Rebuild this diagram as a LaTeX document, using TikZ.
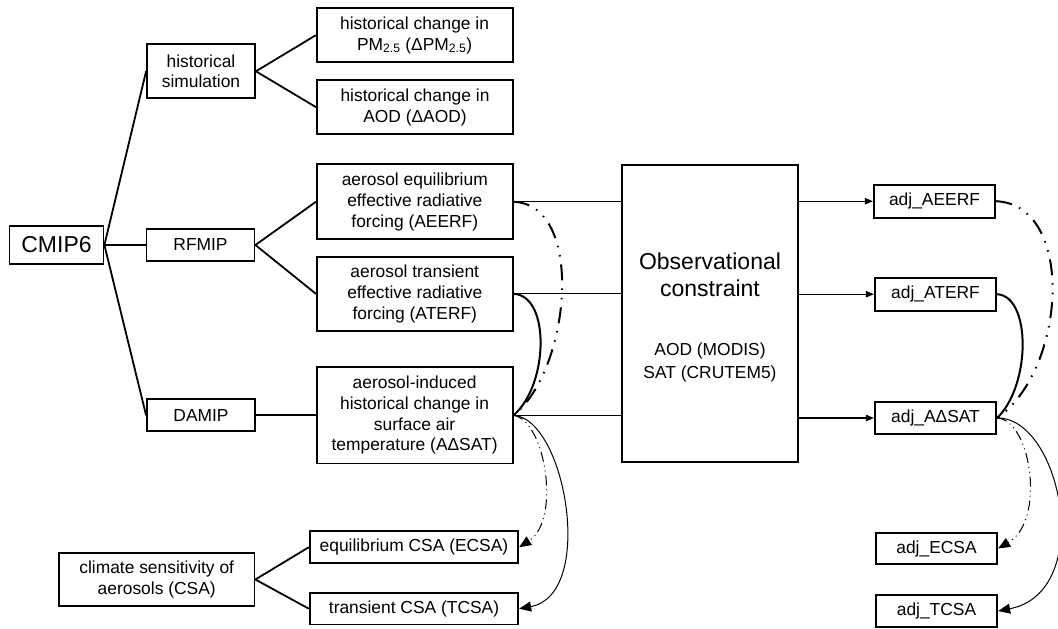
\documentclass[tikz,border=0pt]{standalone}
\usepackage{fontspec}
\setmainfont{Liberation Sans}
\usetikzlibrary{arrows.meta}
\tikzset{
  boxn/.style={draw, line width=1.8pt, inner sep=0pt, align=center, font=\fontsize{17.4}{20.7}\selectfont},
  treeline/.style={line width=1.8pt},
  obsline/.style={line width=1.1pt},
  obsarrow/.style={line width=1.1pt, -{Triangle[length=8pt,width=6.5pt]}},
  bigdd/.style={line width=2pt, dash pattern=on 16pt off 8pt on 1.5pt off 8pt on 1.5pt off 8pt},
  bigsolid/.style={line width=2pt},
  smalldd/.style={line width=1pt, dash pattern=on 10pt off 4pt on 1pt off 4pt on 1pt off 4pt, -{Triangle[length=12pt,width=10pt]}},
  smallsolid/.style={line width=1pt, -{Triangle[length=12pt,width=10pt]}},
  obstext/.style={anchor=base, inner sep=0pt},
}
\begin{document}
\begin{tikzpicture}[x=1pt, y=-1pt]
\useasboundingbox (0,0) rectangle (1058,629);
\fill[white] (0,0) rectangle (1058,629);

% left tree
\node[boxn, minimum width=94, minimum height=38, font=\fontsize{23}{27}\selectfont] (cmip) at (56.5,245) {CMIP6};
\node[boxn, minimum width=108, minimum height=54] (hist) at (201,71.3) {historical\\simulation};
\node[boxn, minimum width=108, minimum height=31.5] (rfmip) at (200.5,245) {RFMIP};
\node[boxn, minimum width=108, minimum height=32] (damip) at (201,415.3) {DAMIP};

\node[boxn, minimum width=196, minimum height=54] (pm) at (414.6,35.3) {historical change in\\PM\textsubscript{2.5} (ΔPM\textsubscript{2.5})};
\node[boxn, minimum width=196, minimum height=54] (aod) at (415,107.2) {historical change in\\AOD (ΔAOD)};
\node[boxn, minimum width=196, minimum height=75] (aeerf) at (414.8,201.8) {aerosol equilibrium\\effective radiative\\forcing (AEERF)};
\node[boxn, minimum width=196, minimum height=74] (aterf) at (414.8,293.8) {aerosol transient\\effective radiative\\forcing (ATERF)};
\node[boxn, minimum width=196, minimum height=96.5] (asat) at (414.6,415.3) {aerosol-induced\\historical change in\\surface air\\temperature (AΔSAT)};

\node[boxn, minimum width=195.5, minimum height=53.5] (csa) at (156.7,579.5) {climate sensitivity of\\aerosols (CSA)};
\node[boxn, minimum width=208.5, minimum height=32] (ecsa) at (414,547.2) {equilibrium CSA (ECSA)};
\node[boxn, minimum width=208.5, minimum height=31.5] (tcsa) at (414,608.7) {transient CSA (TCSA)};

% observational constraint
\node[draw, line width=1.5pt, minimum width=176, minimum height=297, inner sep=0pt] (obs) at (710,313.3) {};
\node[obstext, font=\fontsize{23}{27}\selectfont] (ot1) at (710,269) {Observational};
\node[obstext, font=\fontsize{23}{27}\selectfont] (ot2) at (710,296.7) {constraint};
\node[obstext, font=\fontsize{17.4}{20.7}\selectfont] (os1) at (710,355.7) {AOD (MODIS)};
\node[obstext, font=\fontsize{17.4}{20.7}\selectfont] (os2) at (710,378) {SAT (CRUTEM5)};

% adjusted boxes
\node[boxn, minimum width=121.5, minimum height=33] (adjA) at (934.5,201.2) {adj\_AEERF};
\node[boxn, minimum width=121.5, minimum height=33] (adjT) at (935.5,294.2) {adj\_ATERF};
\node[boxn, minimum width=121.5, minimum height=31.5] (adjS) at (935.5,418) {adj\_AΔSAT};
\node[boxn, minimum width=121.5, minimum height=31.5] (adjE) at (936.5,548.5) {adj\_ECSA};
\node[boxn, minimum width=121.5, minimum height=32] (adjC) at (936.5,611) {adj\_TCSA};

% tree connectors
\draw[treeline] (cmip.east) -- (hist.west);
\draw[treeline] (cmip.east) -- (rfmip.west);
\draw[treeline] (cmip.east) -- (damip.west);
\draw[treeline] (hist.east) -- (pm.west);
\draw[treeline] (hist.east) -- (aod.west);
\draw[treeline] (rfmip.east) -- (aeerf.west);
\draw[treeline] (rfmip.east) -- (aterf.west);
\draw[treeline] (damip.east) -- (asat.west);
\draw[treeline] (csa.east) -- (ecsa.west);
\draw[treeline] (csa.east) -- (tcsa.west);

% into / out of observational constraint
\draw[obsline] (aeerf.east) -- (aeerf.east -| obs.west);
\draw[obsline] (aterf.east) -- (aterf.east -| obs.west);
\draw[obsline] (asat.east) -- (asat.east -| obs.west);
\draw[obsarrow] (adjA.west -| obs.east) -- (adjA.west);
\draw[obsarrow] (adjT.west -| obs.east) -- (adjT.west);
\draw[obsarrow] (adjS.west -| obs.east) -- (adjS.west);

% left curves
\draw[bigdd] (aeerf.east) .. controls +(72,3) and +(57,-45) .. (asat.east);
\draw[bigsolid] (aterf.east) .. controls +(37,2) and +(35,-30) .. (asat.east);
\draw[smalldd] (asat.east) .. controls +(32,5) and +(42,-27) .. (ecsa.east);
\draw[smallsolid] (asat.east) .. controls +(52,3) and +(77,-14) .. (tcsa.east);

% right curves
\draw[bigdd] (adjA.east) .. controls +(80,4) and +(69,-48) .. (adjS.east);
\draw[bigsolid] (adjT.east) .. controls +(34,2) and +(34,-33) .. (adjS.east);
\draw[smalldd] (adjS.east) .. controls +(34,2) and +(48,-28) .. (adjE.east);
\draw[smallsolid] (adjS.east) .. controls +(64,-1) and +(98,-19) .. (adjC.east);
\end{tikzpicture}
\end{document}
